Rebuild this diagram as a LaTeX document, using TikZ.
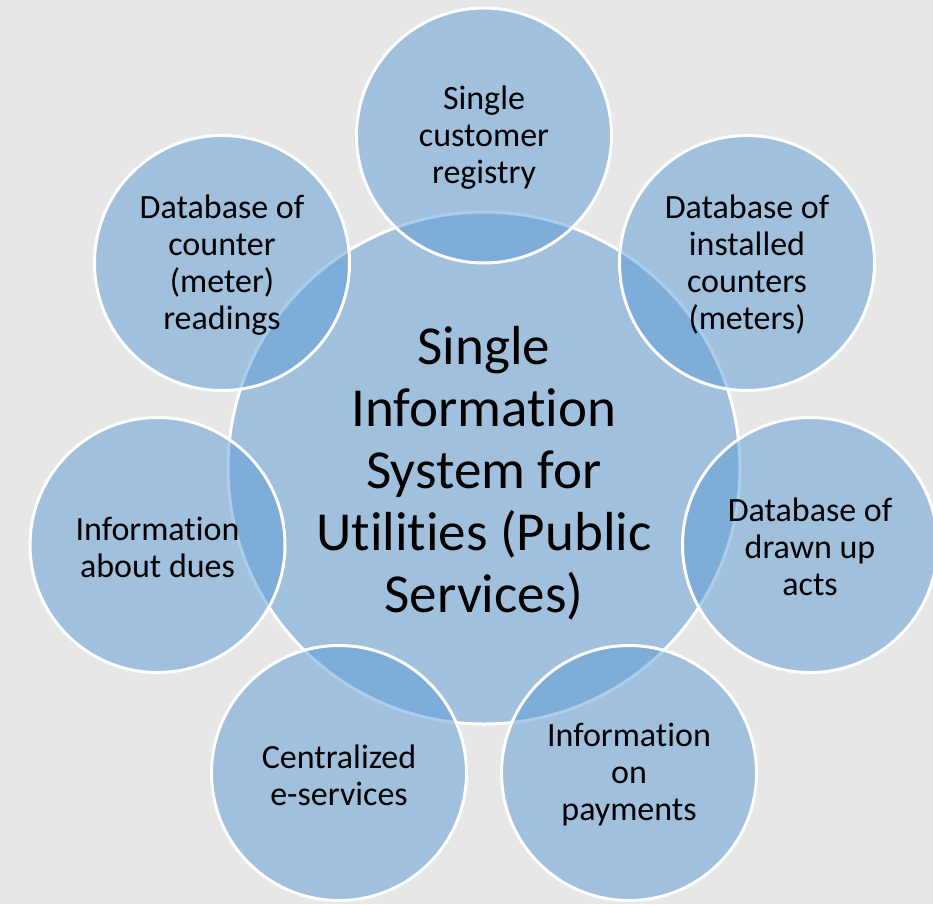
\documentclass[tikz,border=0pt]{standalone}
\usepackage{fontspec}
\setmainfont{Carlito}[RawFeature={-liga;-clig;-calt;-dlig}]
\definecolor{bgc}{RGB}{231,231,231}
\definecolor{bubc}{RGB}{91,155,213}
\begin{document}
\begin{tikzpicture}[x=1pt,y=-1pt,
  bub/.style={circle, draw=white, line width=3pt, fill=bubc, fill opacity=0.5,
    draw opacity=1, inner sep=0pt},
  small/.style={bub, minimum size=255pt},
  big/.style={bub, minimum size=512pt},
  stxt/.style={align=center, inner sep=0pt, text=black, yshift=-2pt,
    font=\fontsize{34}{37}\selectfont},
  btxt/.style={align=center, inner sep=0pt, text=black, yshift=-5pt,
    font=\fontsize{55}{62}\selectfont}]
\useasboundingbox (0,0) rectangle (933,904);
\fill[bgc] (0,0) rectangle (933,904);
\clip (0,0) rectangle (933,904);
\node[big] (main) at (484,468) {};
\node[btxt] (maint) at (main) {Single\\Information\\System for\\Utilities (Public\\Services)};
\node[small] (reg) at (484,135.5) {};
\node[stxt] (regt) at (reg) {Single\\customer\\registry};
\node[small] (inst) at (747,263) {};
\node[stxt] (instt) at (inst) {Database of\\installed\\counters\\(meters)};
\node[small] (acts) at (810,545) {};
\node[stxt] (actst) at (acts) {Database of\\drawn up\\acts};
\node[small] (pay) at (629,773) {};
\node[stxt] (payt) at (pay) {Information\\on\\payments};
\node[small] (eserv) at (339,773) {};
\node[stxt] (eservt) at (eserv) {Centralized\\e-services};
\node[small] (dues) at (157.5,545) {};
\node[stxt] (duest) at (dues) {Information\\about dues};
\node[small] (read) at (222,263) {};
\node[stxt] (readt) at (read) {Database of\\counter\\(meter)\\readings};
\end{tikzpicture}
\end{document}
